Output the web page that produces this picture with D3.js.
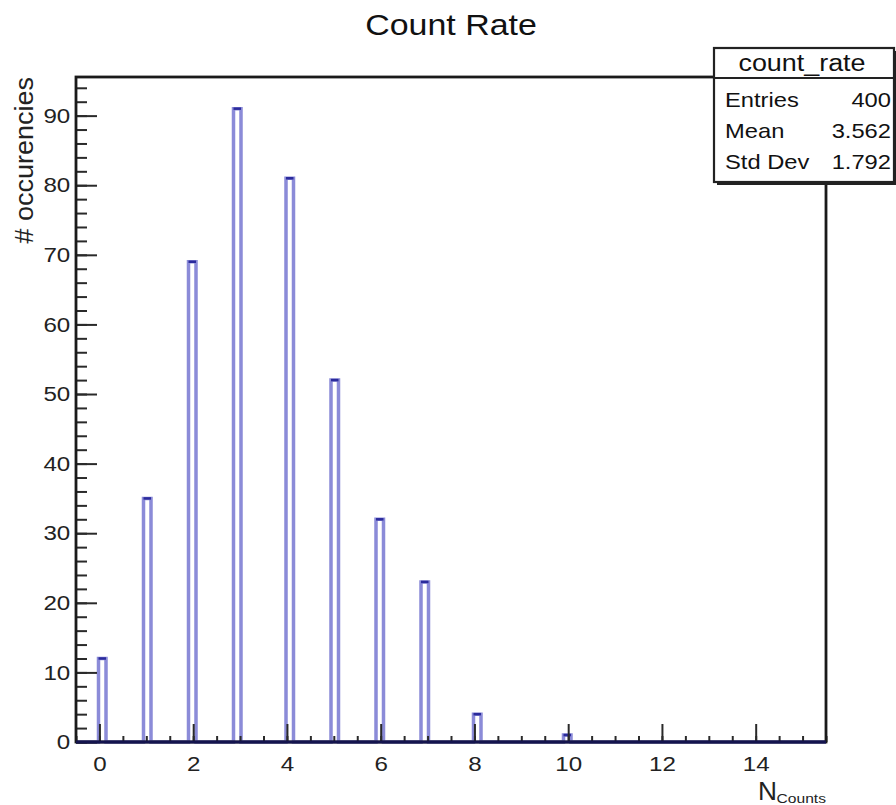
<!DOCTYPE html>
<html>
<head>
<meta charset="utf-8">
<script src="https://cdn.jsdelivr.net/npm/d3@7"></script>
<style>
  body { margin: 0; background: #fff; }
  svg { display: block; font-family: "Liberation Sans", Arial, sans-serif; }
</style>
</head>
<body>
<script>
// values (integer counts, 400 entries)
var counts = [0, 1, 2, 3, 4, 5, 6, 7, 8, 10];
var occurrences = [12, 35, 69, 91, 81, 52, 32, 23, 4, 1];
var xTicks = [0, 2, 4, 6, 8, 10, 12, 14];
var yTicks = [0, 10, 20, 30, 40, 50, 60, 70, 80, 90];
var histName = "count_rate";
var nBins = 100, xMin = -0.5, xMax = 15.5;

var W = 896, H = 805;
var m = {left: 76, right: 826, top: 77, bottom: 742};
var wide = "scale(1.15,1)"; // the picture's lettering is a bit wider than Arial

var svg = d3.select("body").append("svg")
    .attr("width", W).attr("height", H);

// fill the histogram bins like ROOT would
var bw = (xMax - xMin) / nBins;
var bins = d3.range(nBins).map(function() { return 0; });
counts.forEach(function(c, i) {
  var b = Math.floor((c - xMin) / bw);
  bins[b] += occurrences[i];
});

var total = d3.sum(occurrences);
var mean = d3.sum(counts, function(c, i) { return c * occurrences[i]; }) / total;
var sd = Math.sqrt(d3.sum(counts, function(c, i) { return c * c * occurrences[i]; }) / total - mean * mean);
var yMax = d3.max(occurrences) * 1.05;

// %.4g style, half to even like printf
function g4(v) {
  var e = Math.floor(Math.log10(Math.abs(v)));
  var k = Math.pow(10, 3 - e);
  var s = v * k, f = Math.floor(s), r;
  if (Math.abs(s - f - 0.5) < 1e-9) r = (f % 2 === 0) ? f : f + 1;
  else r = Math.round(s);
  return (r / k).toFixed(Math.max(0, 3 - e));
}

var x = d3.scaleLinear().domain([xMin, xMax]).range([m.left, m.right]);
var y = d3.scaleLinear().domain([0, yMax]).range([m.bottom, m.top]);

// step outline
var pts = bins.map(function(v, i) { return [xMin + i * bw, v]; });
pts.push([xMax, bins[nBins - 1]]);
var line = d3.line()
    .x(function(d) { return x(d[0]); })
    .y(function(d) { return y(d[1]); })
    .curve(d3.curveStepAfter);

svg.append("path")
    .attr("d", line([[xMin, 0]].concat(pts)))
    .attr("fill", "none")
    .attr("stroke", "#8b8bd8")
    .attr("stroke-width", 3.5);

// darker top caps
svg.selectAll("line.cap")
  .data(bins.map(function(v, i) { return {v: v, i: i}; }).filter(function(d) { return d.v > 0; }))
  .enter().append("line")
    .attr("class", "cap")
    .attr("x1", function(d) { return x(xMin + d.i * bw); })
    .attr("x2", function(d) { return x(xMin + (d.i + 1) * bw); })
    .attr("y1", function(d) { return y(d.v); })
    .attr("y2", function(d) { return y(d.v); })
    .attr("stroke", "#2b2b9c")
    .attr("stroke-width", 2.5);

// axes (ticks point inside the frame)
var gx = svg.append("g").attr("transform", "translate(0," + m.bottom + ")");
gx.call(d3.axisBottom(x).tickValues(d3.range(-0.5, 15.51, 0.5)).tickSize(-6).tickFormat(""));
var gxMaj = svg.append("g").attr("transform", "translate(0," + m.bottom + ")");
gxMaj.call(d3.axisBottom(x).tickValues(xTicks).tickSize(-18).tickPadding(14).tickFormat(d3.format("d")));

var gy = svg.append("g").attr("transform", "translate(" + m.left + ",0)");
gy.call(d3.axisLeft(y).tickValues(d3.range(0, yMax, 2)).tickSize(-11).tickFormat(""));
var gyMaj = svg.append("g").attr("transform", "translate(" + m.left + ",0)");
gyMaj.call(d3.axisLeft(y).tickValues(yTicks).tickSize(-21).tickPadding(5).tickFormat(d3.format("d")));

svg.selectAll(".domain").remove();
svg.selectAll(".tick line").attr("stroke", "#2a2a2a").attr("stroke-width", 2);
svg.selectAll(".tick text").attr("font-size", 21).attr("fill", "#222")
    .attr("font-family", "Liberation Sans, Arial, sans-serif")
    .attr("transform", wide);

// frame
svg.append("rect")
    .attr("x", m.left).attr("y", m.top)
    .attr("width", m.right - m.left).attr("height", m.bottom - m.top)
    .attr("fill", "none").attr("stroke", "#1a1a1a").attr("stroke-width", 2.8);
// histogram line along zero hides the bottom edge
svg.append("line")
    .attr("x1", m.left).attr("x2", m.right)
    .attr("y1", m.bottom).attr("y2", m.bottom)
    .attr("stroke", "#14144e").attr("stroke-width", 3);

// titles
svg.append("text")
    .attr("transform", "translate(" + ((m.left + m.right) / 2) + ",35) scale(1.17,1)")
    .attr("text-anchor", "middle").attr("font-size", 29).attr("fill", "#111")
    .text("Count Rate");

svg.append("text")
    .attr("transform", "translate(33," + m.top + ") rotate(-90) scale(1.08,1)")
    .attr("text-anchor", "end").attr("font-size", 25).attr("fill", "#222")
    .text("# occurencies");

svg.append("text")
    .attr("transform", "translate(" + m.right + ",803) scale(1.2,1)")
    .attr("text-anchor", "end").attr("font-size", 13).attr("fill", "#222")
    .text("Counts");
svg.append("text")
    .attr("transform", "translate(777,800) scale(1.05,1)")
    .attr("text-anchor", "end").attr("font-size", 25).attr("fill", "#222")
    .text("N");

// stats box
var sb = {x: 714, y: 48, w: 180, h: 134, head: 30};
svg.append("rect")
    .attr("x", sb.x + 3).attr("y", sb.y + 3).attr("width", sb.w).attr("height", sb.h)
    .attr("fill", "#222");
svg.append("rect")
    .attr("x", sb.x).attr("y", sb.y).attr("width", sb.w).attr("height", sb.h)
    .attr("fill", "#fff").attr("stroke", "#222").attr("stroke-width", 2.2);
svg.append("line")
    .attr("x1", sb.x).attr("x2", sb.x + sb.w)
    .attr("y1", sb.y + sb.head).attr("y2", sb.y + sb.head)
    .attr("stroke", "#222").attr("stroke-width", 2.2);
svg.append("text")
    .attr("transform", "translate(" + (sb.x + sb.w / 2 - 2) + "," + (sb.y + 23) + ") scale(1.17,1)")
    .attr("text-anchor", "middle").attr("font-size", 23).attr("fill", "#111")
    .text(histName);

var rows = [
  ["Entries", String(total)],
  ["Mean", g4(mean)],
  ["Std Dev", g4(sd)]
];
var rowG = svg.selectAll("g.row").data(rows).enter().append("g")
    .attr("transform", function(d, i) { return "translate(0," + (sb.y + 59 + i * 31) + ")"; });
rowG.append("text")
    .attr("transform", "translate(" + (sb.x + 11) + ",0) scale(1.13,1)")
    .attr("font-size", 21).attr("fill", "#111")
    .text(function(d) { return d[0]; });
rowG.append("text")
    .attr("transform", "translate(" + (sb.x + sb.w - 3) + ",0) scale(1.13,1)")
    .attr("text-anchor", "end").attr("font-size", 21).attr("fill", "#111")
    .text(function(d) { return d[1]; });
</script>
</body>
</html>
